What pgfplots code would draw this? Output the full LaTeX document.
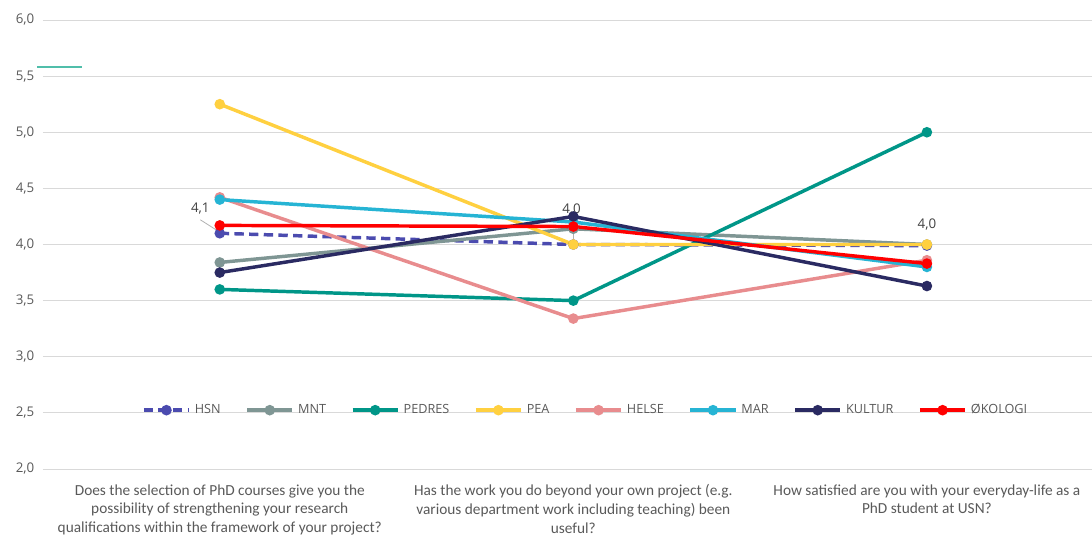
\documentclass[border=0pt]{standalone}
\usepackage{fontspec}
\setmainfont{Open Sans}
\newfontfamily\catfont{Carlito}
\usepackage{pgfplots}
\pgfplotsset{compat=1.18}
\definecolor{cHSN}{RGB}{75,75,175}
\definecolor{cMNT}{RGB}{127,150,148}
\definecolor{cPED}{RGB}{0,150,136}
\definecolor{cPEA}{RGB}{255,208,64}
\definecolor{cHEL}{RGB}{232,140,142}
\definecolor{cMAR}{RGB}{38,180,212}
\definecolor{cKUL}{RGB}{42,42,98}
\definecolor{cOKO}{RGB}{255,0,0}
\definecolor{labgray}{RGB}{89,89,89}
\definecolor{gridgray}{RGB}{217,217,217}
\begin{document}
\begin{tikzpicture}
\begin{axis}[
  scale only axis, width=786.75pt, height=336.75pt,
  xmin=-0.5, xmax=2.467, ymin=2, ymax=6,
  axis line style={draw=none}, tick style={draw=none},
  ymajorgrids, grid style={gridgray, line width=0.7pt},
  ytick={2,2.5,...,6.01},
  /pgf/number format/use comma, /pgf/number format/fixed, /pgf/number format/fixed zerofill, /pgf/number format/precision=1, /pgf/number format/assume math mode=true,
  yticklabel style={font=\fontsize{10}{12}\selectfont, text=labgray, xshift=-3pt},
  xtick={0,1,2},
  xticklabels={{Does the selection of PhD courses give you the\\possibility of strengthening your research\\qualifications within the framework of your project?},
    {Has the work you do beyond your own project (e.g.\\various department work including teaching) been\\useful?},
    {How satisfied are you with your everyday-life as a\\PhD student at USN?}},
  xticklabel style={align=center, font=\catfont\fontsize{11.5}{14.2}\selectfont, text=labgray, yshift=-8pt},
  clip=false,
  legend columns=8,
  legend style={at={(rel axis cs:0.5176,0.131)}, anchor=center, draw=none, fill=none,
    font=\fontsize{9.5}{11}\selectfont, text=labgray,
    /tikz/every odd column/.append style={column sep=1pt},
    /tikz/every even column/.append style={column sep=16.5pt}},
  legend image code/.code={\draw[#1,mark repeat=2,mark phase=2] plot coordinates {(0pt,0pt) (17pt,0pt) (34pt,0pt)};},
  every axis plot/.append style={line width=2.6pt, mark=*, mark size=2.6pt, mark options={solid}},
]
\addplot[cHSN, dash pattern=on 7pt off 4pt] coordinates {(0,4.10) (1,4.00) (2,3.99)};
\addlegendentry{HSN}
\addplot[cMNT] coordinates {(0,3.84) (1,4.14) (2,4.00)};
\addlegendentry{MNT}
\addplot[cPED] coordinates {(0,3.60) (1,3.50) (2,5.00)};
\addlegendentry{PEDRES}
\addplot[cPEA] coordinates {(0,5.25) (1,4.00) (2,4.00)};
\addlegendentry{PEA}
\addplot[cHEL] coordinates {(0,4.42) (1,3.34) (2,3.86)};
\addlegendentry{HELSE}
\addplot[cMAR] coordinates {(0,4.40) (1,4.20) (2,3.80)};
\addlegendentry{MAR}
\addplot[cKUL] coordinates {(0,3.75) (1,4.25) (2,3.63)};
\addlegendentry{KULTUR}
\addplot[cOKO] coordinates {(0,4.17) (1,4.16) (2,3.83)};
\addlegendentry{ØKOLOGI}
\draw[gray!60, line width=0.6pt] (axis cs:-0.055,4.22) -- (axis cs:-0.01,4.13);
\node[font=\fontsize{10}{12}\selectfont, text={rgb,255:red,64;green,64;blue,64}] at (axis cs:-0.055,4.32) {4,1};
\draw[gray!60, line width=0.6pt] (axis cs:1,4.26) -- (axis cs:1,4.02);
\node[font=\fontsize{10}{12}\selectfont, text={rgb,255:red,64;green,64;blue,64}] at (axis cs:0.995,4.31) {4,0};
\node[font=\fontsize{10}{12}\selectfont, text={rgb,255:red,64;green,64;blue,64}] at (axis cs:2,4.18) {4,0};
\end{axis}
\draw[color={rgb,255:red,80;green,190;blue,170}, line width=0.8pt] (-4.5pt,301.5pt) -- (29.25pt,301.5pt);
\pgfresetboundingbox
\useasboundingbox (-32.25pt,-49.5pt) rectangle (786.75pt,351.75pt);
\end{tikzpicture}
\end{document}
